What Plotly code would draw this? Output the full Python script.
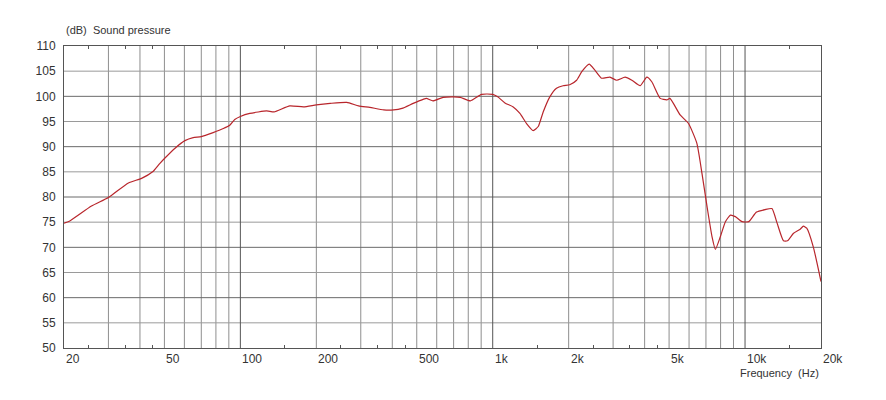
import math
import plotly.graph_objects as go

# ---- data ----
freq_hz = [20, 21, 25.7, 30, 36, 40.6, 44.9, 48, 50.6, 55.1, 60.3, 65, 70, 78, 85.6, 91, 95, 100,
           109, 127, 136, 157, 178, 200, 227, 264, 294, 326, 370, 405, 437, 484, 530, 546, 580,
           636, 700, 744, 816, 903, 1000, 1047, 1118, 1206, 1282, 1362, 1447, 1515, 1585, 1684,
           1790, 1900, 2020, 2150, 2254, 2412, 2540, 2700, 2914, 3100, 3346, 3560, 3838, 4080,
           4270, 4610, 4900, 5040, 5530, 5970, 6440, 6750, 7070, 7400, 7630, 7980, 8360, 8750,
           9150, 9730, 10350, 11100, 12000, 12780, 13400, 14200, 14730, 15570, 16540, 17030,
           17560, 18640, 20000]
spl_db = [74.8, 75.2, 78.2, 79.9, 82.8, 83.7, 85.0, 86.7, 87.9, 89.7, 91.2, 91.8, 92.0, 92.8, 93.6,
          94.3, 95.4, 96.0, 96.6, 97.1, 96.9, 98.1, 97.9, 98.3, 98.6, 98.8, 98.1, 97.8, 97.3, 97.3,
          97.6, 98.6, 99.4, 99.6, 99.1, 99.8, 99.9, 99.8, 99.1, 100.4, 100.4, 99.9, 98.7, 97.9,
          96.6, 94.6, 93.2, 94.0, 96.9, 99.9, 101.6, 102.1, 102.3, 103.2, 104.9, 106.4, 105.2,
          103.6, 103.8, 103.2, 103.8, 103.2, 102.1, 103.8, 102.9, 99.6, 99.3, 99.6, 96.3, 94.6,
          90.7, 84.7, 78.1, 72.1, 69.6, 72.1, 75.1, 76.4, 76.1, 75.1, 75.1, 77.0, 77.5, 77.7,
          74.8, 71.3, 71.3, 72.8, 73.6, 74.2, 73.8, 70.1, 63.2]

x_labels = ["20", "50", "100", "200", "500", "1k", "2k", "5k", "10k", "20k"]
x_label_vals = [20, 50, 100, 200, 500, 1000, 2000, 5000, 10000, 20000]
x_grid_minor = [30, 40, 50, 60, 70, 80, 90, 200, 300, 400, 500, 600, 700, 800, 900,
                2000, 3000, 4000, 5000, 6000, 7000, 8000, 9000]
x_grid_major = [100, 1000, 10000]
x_small_ticks = [25, 35, 45, 150, 250, 350, 450, 1500, 2500, 3500, 4500, 15000]
y_grid_dark = [60, 70, 80, 90, 100]
y_grid_light = [55, 65, 75, 85, 95, 105]
y_ticks = list(range(50, 111, 5))

X_MIN, X_MAX = 20, 20000
Y_MIN, Y_MAX = 50, 110

FONT = "Liberation Sans, Arial, sans-serif"
TXT = "#333333"

def vlines(xs):
    xx, yy = [], []
    for v in xs:
        xx += [v, v, None]
        yy += [Y_MIN, Y_MAX, None]
    return xx, yy

def hlines(ys):
    xx, yy = [], []
    for v in ys:
        xx += [X_MIN, X_MAX, None]
        yy += [v, v, None]
    return xx, yy

fig = go.Figure()

for (xx, yy), col in [(vlines(x_grid_minor), "#8e8e8e"), (hlines(y_grid_light), "#9a9a9a"),
                      (hlines(y_grid_dark), "#6a6a6a"), (vlines(x_grid_major), "#555555")]:
    fig.add_trace(go.Scatter(x=xx, y=yy, mode="lines", line=dict(color=col, width=1),
                             hoverinfo="skip", showlegend=False))

fig.add_trace(go.Scatter(x=freq_hz, y=spl_db, mode="lines",
                         line=dict(color="#b8262c", width=1.2, shape="spline", smoothing=0.5),
                         showlegend=False, name="Sound pressure"))

fig.update_xaxes(type="log", range=[math.log10(X_MIN), math.log10(X_MAX)],
                 tickvals=x_small_ticks, ticks="inside", ticklen=3, tickcolor="#555555",
                 showticklabels=False, showgrid=False, zeroline=False,
                 showline=True, linecolor="#555555", linewidth=1, mirror="ticks")
fig.update_yaxes(range=[Y_MIN, Y_MAX], tickvals=y_ticks, ticks="", showgrid=False,
                 zeroline=False, showline=True, linecolor="#555555", linewidth=1, mirror=True,
                 ticklabelstandoff=5,
                 tickfont=dict(family=FONT, size=12, color=TXT))

annotations = []
for lab, v in zip(x_labels, x_label_vals):
    annotations.append(dict(x=math.log10(v), y=0, xref="x", yref="paper", text=lab,
                            showarrow=False, xanchor="left", yanchor="top", yshift=-2,
                            font=dict(family=FONT, size=12, color=TXT)))
annotations.append(dict(x=0, y=1, xref="paper", yref="paper", text="(dB)  Sound pressure",
                        showarrow=False, xanchor="left", yanchor="bottom", yshift=8,
                        font=dict(family=FONT, size=11, color=TXT)))
annotations.append(dict(x=1, y=0, xref="paper", yref="paper", text="Frequency  (Hz)",
                        showarrow=False, xanchor="right", yanchor="top", yshift=-17,
                        font=dict(family=FONT, size=11, color=TXT)))

fig.update_layout(width=878, height=392, margin=dict(l=56, r=65, t=38, b=52),
                  paper_bgcolor="white", plot_bgcolor="white", annotations=annotations,
                  font=dict(family=FONT, size=11, color=TXT), hovermode=False)

fig.write_html("out.html")
